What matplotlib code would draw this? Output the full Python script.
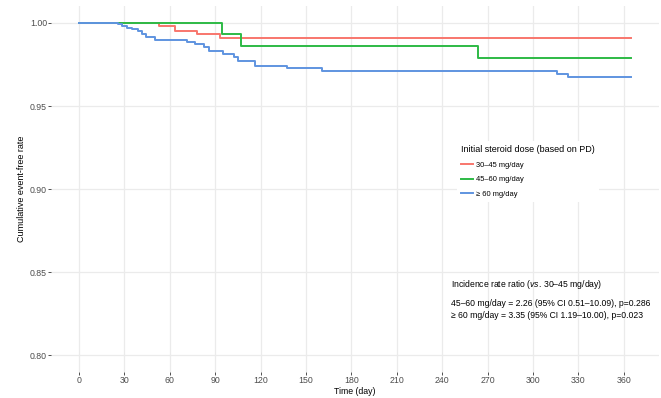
import matplotlib
matplotlib.use("Agg")
import matplotlib.pyplot as plt

plt.rcParams['font.family'] = ['Liberation Sans', 'DejaVu Sans']
plt.rcParams['mathtext.fontset'] = 'custom'
plt.rcParams['mathtext.rm'] = 'Liberation Sans'
plt.rcParams['mathtext.it'] = 'Liberation Sans:italic'

# Kaplan-Meier step data (time in days, cumulative event-free rate)
red_t = [0, 53, 63.4, 78.2, 93.2, 365]
red_s = [1.0, 0.9982, 0.9954, 0.9932, 0.9908, 0.9908]

green_t = [0, 94.3, 107, 263.9, 365]
green_s = [1.0, 0.9934, 0.9860, 0.9787, 0.9787]

blue_t = [0, 26, 28.2, 31.5, 34.8, 39.2, 41.4, 44.3, 50.2, 71.1, 76.7, 82.6,
          86.1, 95.4, 102.4, 105.3, 116.3, 137.2, 160.4, 315.6, 322.9, 365]
blue_s = [1.0, 0.9992, 0.9982, 0.9972, 0.9962, 0.9952, 0.9936, 0.9916, 0.9898,
          0.9886, 0.9876, 0.9857, 0.9830, 0.9815, 0.9797, 0.9769, 0.9741,
          0.9727, 0.9713, 0.9694, 0.9677, 0.9677]

labels = ["30\u201345 mg/day", "45\u201360 mg/day", "\u2265 60 mg/day"]
colors = ["#F8766D", "#2DBA45", "#5F94E0"]

x_ticks = list(range(0, 361, 30))
y_ticks = [0.80, 0.85, 0.90, 0.95, 1.00]

fig = plt.figure(figsize=(6.61, 3.98), dpi=100)
ax = fig.add_axes([0.0778, 0.0653, 0.9192, 0.9187])

for t, s, c, l in zip([red_t, green_t, blue_t], [red_s, green_s, blue_s], colors, labels):
    ax.step(t, s, where='post', color=c, lw=1.4, label=l, zorder=3)

ax.set_xlim(-18.25, 383.25)
ax.set_ylim(0.79, 1.01)
ax.set_xticks(x_ticks)
ax.set_yticks(y_ticks)
ax.set_yticklabels([f"{v:.2f}" for v in y_ticks])
ax.grid(True, color="#EBEBEB", lw=0.9, zorder=0)
for sp in ax.spines.values():
    sp.set_visible(False)
ax.tick_params(axis='both', labelcolor="#4D4D4D", labelsize=6.3, length=2.2, width=0.6,
               pad=1.0, color="#333333")
ax.set_xlabel("Time (day)", fontsize=6.3, color="black", labelpad=0.8)
ax.set_ylabel("Cumulative event-free rate", fontsize=6.5, color="black", labelpad=3)

leg = ax.legend(loc='upper left', bbox_to_anchor=(0.6616, 0.643), frameon=True,
                fontsize=5.4, title="Initial steroid dose (based on PD)",
                title_fontsize=6.5, handlelength=1.6, handletextpad=0.35,
                labelspacing=1.0, borderpad=0.55)
leg.get_frame().set_facecolor("white")
leg.get_frame().set_edgecolor("none")
leg.get_frame().set_alpha(1)
leg._legend_box.align = "left"
leg.set_zorder(5)

fs = 6.25
ax.text(0.657, 0.240, "Incidence rate ratio ($\\mathit{vs.}\\,$30\u201345 mg/day)",
        transform=ax.transAxes, fontsize=fs, va='center', ha='left', zorder=5)
ax.text(0.657, 0.187, "45\u201360 mg/day = 2.26 (95% CI 0.51\u201310.09), p=0.286",
        transform=ax.transAxes, fontsize=fs, va='center', ha='left', zorder=5)
ax.text(0.657, 0.154, "\u2265 60 mg/day = 3.35 (95% CI 1.19\u201310.00), p=0.023",
        transform=ax.transAxes, fontsize=fs, va='center', ha='left', zorder=5)

fig.savefig("out.png", dpi=100)
